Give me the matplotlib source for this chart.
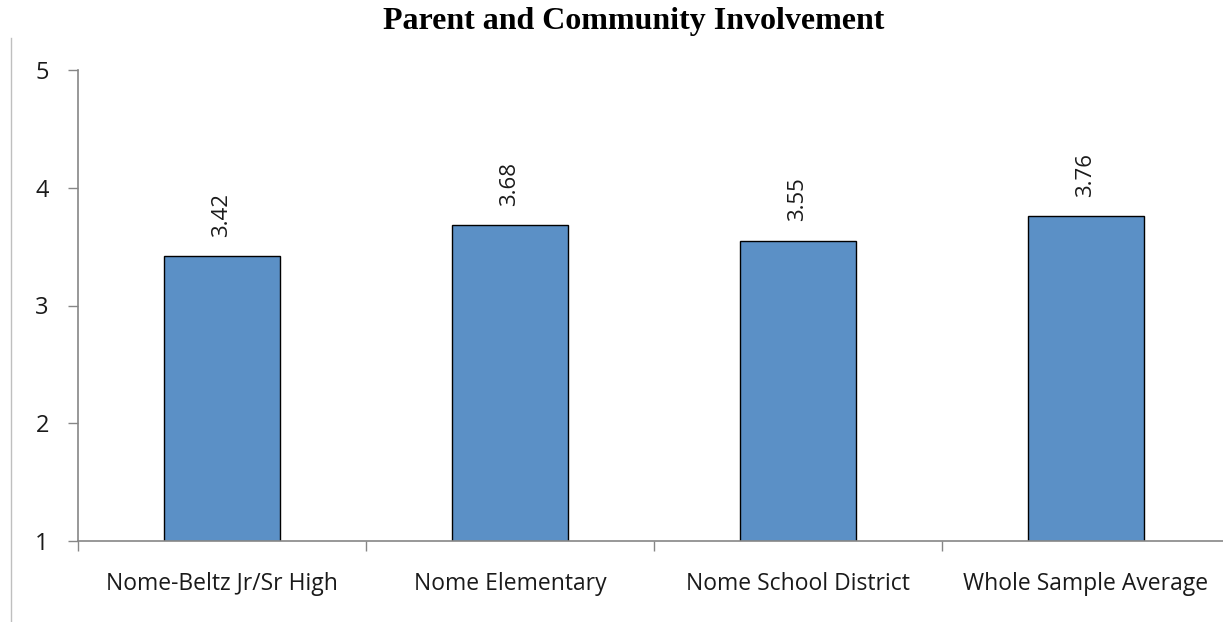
import matplotlib
matplotlib.use("Agg")
import matplotlib.pyplot as plt
from matplotlib.lines import Line2D
import numpy as np

categories = ["Nome-Beltz Jr/Sr High", "Nome Elementary", "Nome School District", "Whole Sample Average"]
values = [3.42, 3.68, 3.55, 3.76]
y_ticks = [1, 2, 3, 4, 5]
title = "Parent and Community Involvement"

W, H = 1223, 622
fig = plt.figure(figsize=(W / 100, H / 100), dpi=100)
fig.patch.set_facecolor("white")

# axes box in pixel terms: left 78, right 1230, bottom 541, top 70
ax = fig.add_axes([78 / W, (H - 541) / H, (1230 - 78) / W, (541 - 70) / H])

axis_gray = "#868686"
bar_color = "#5B90C6"
label_font = "Open Sans"
text_color = "#1a1a1a"

x = np.arange(len(categories))
ax.bar(x, values, width=0.40, bottom=0, color=bar_color, edgecolor="black", linewidth=1.0, zorder=2)

ax.set_xlim(-0.5, len(categories) - 0.5)
ax.set_ylim(1, 5)
ax.set_yticks(y_ticks)
ax.set_yticklabels([str(t) for t in y_ticks], fontfamily=label_font, fontsize=17, color=text_color)

ax.set_xticks(x)
ax.set_xticklabels(categories, fontfamily=label_font, fontsize=16.5, color=text_color)
ax.set_xticks(np.arange(len(categories) + 1) - 0.5, minor=True)
ax.tick_params(axis="x", which="major", length=0, pad=22)
ax.tick_params(axis="x", which="minor", length=7, width=1, color=axis_gray, direction="out")
ax.tick_params(axis="y", length=7, width=1, color=axis_gray, direction="out", pad=14)

for side in ("top", "right"):
    ax.spines[side].set_visible(False)
for side in ("left", "bottom"):
    ax.spines[side].set_color(axis_gray)
    ax.spines[side].set_linewidth(1.2)

for xi, v in zip(x, values):
    ax.annotate(f"{v:.2f}", xy=(xi, v), xytext=(0, 14), textcoords="offset points",
                rotation=90, ha="center", va="bottom", fontfamily=label_font,
                fontsize=16, color=text_color)

fig.text(634 / W, 1 - 21 / H, title, ha="center", va="center",
         fontfamily="Liberation Serif", fontweight="bold", fontsize=23, color="black")

# thin frame line on the left edge
fig.add_artist(Line2D([11 / W, 11 / W], [0, 1 - 38 / H], transform=fig.transFigure,
                      color="#bfbfbf", linewidth=1.0))

fig.savefig("out.png", dpi=100, facecolor="white")
